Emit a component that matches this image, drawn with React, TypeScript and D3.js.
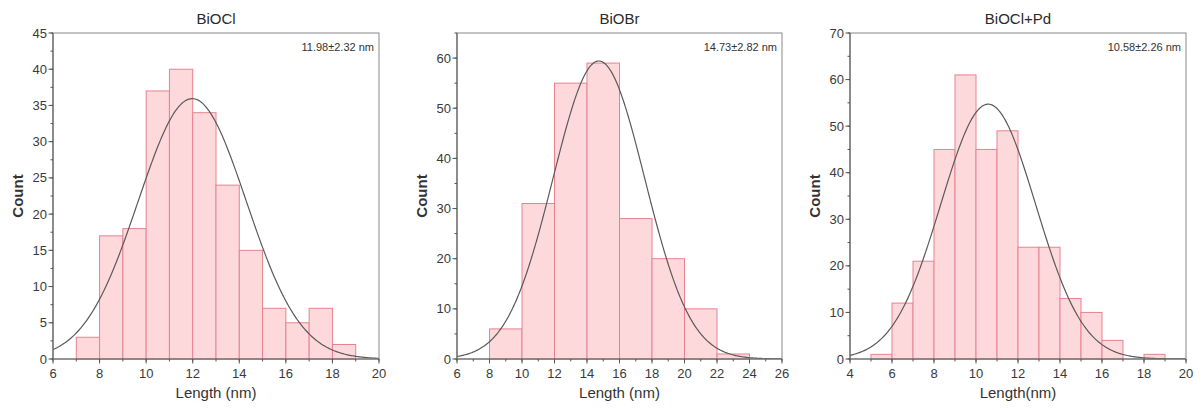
import React from "react";
import * as d3 from "d3";

// ---- Data ----
const bioclBinStarts = [7, 8, 9, 10, 11, 12, 13, 14, 15, 16, 17, 18];
const bioclCounts = [3, 17, 18, 37, 40, 34, 24, 15, 7, 5, 7, 2];
const biobrBinStarts = [8, 10, 12, 14, 16, 18, 20, 22];
const biobrCounts = [6, 31, 55, 59, 28, 20, 10, 1];
const bioclPdBinStarts = [5, 6, 7, 8, 9, 10, 11, 12, 13, 14, 15, 16, 17, 18];
const bioclPdCounts = [1, 12, 21, 45, 61, 45, 49, 24, 24, 13, 10, 4, 0, 1];

const titles = ["BiOCl", "BiOBr", "BiOCl+Pd"];
const annotations = ["11.98±2.32 nm", "14.73±2.82 nm", "10.58±2.26 nm"];
const xLabels = ["Length (nm)", "Length (nm)", "Length(nm)"];
const fitMeans = [11.98, 14.73, 10.58];
const fitSDs = [2.32, 2.82, 2.26];
const binWidths = [1, 2, 1];
const xDomains: [number, number][] = [[6, 20], [6, 26], [4, 20]];
const yDomains: [number, number][] = [[0, 45], [0, 65], [0, 70]];
const yTickValues = [
  [0, 5, 10, 15, 20, 25, 30, 35, 40, 45],
  [0, 10, 20, 30, 40, 50, 60],
  [0, 10, 20, 30, 40, 50, 60, 70],
];
const xTickValues = [
  [6, 8, 10, 12, 14, 16, 18, 20],
  [6, 8, 10, 12, 14, 16, 18, 20, 22, 24, 26],
  [4, 6, 8, 10, 12, 14, 16, 18, 20],
];

// ---- Layout ----
const panels = [
  { left: 53, right: 379, starts: bioclBinStarts, counts: bioclCounts, yMinorStep: 2.5 },
  { left: 457, right: 782, starts: biobrBinStarts, counts: biobrCounts, yMinorStep: 5 },
  { left: 850, right: 1186, starts: bioclPdBinStarts, counts: bioclPdCounts, yMinorStep: 5 },
];
const TOP = 33;
const BOTTOM = 359;
const FONT = "'Liberation Sans', Arial, sans-serif";

function Panel({ i }: { i: number }) {
  const p = panels[i];
  const x = d3.scaleLinear().domain(xDomains[i]).range([p.left, p.right]);
  const y = d3.scaleLinear().domain(yDomains[i]).range([BOTTOM, TOP]);
  const bw = binWidths[i];
  const n = d3.sum(p.counts);
  const amp = (n * bw) / (fitSDs[i] * Math.sqrt(2 * Math.PI));
  const xs = d3.range(xDomains[i][0], xDomains[i][1] + 0.001, 0.05);
  const curve = xs.map((v) => [v, amp * Math.exp(-0.5 * ((v - fitMeans[i]) / fitSDs[i]) ** 2)] as [number, number]);
  const line = d3
    .line<[number, number]>()
    .x((d) => x(d[0]))
    .y((d) => y(Math.max(d[1], 0)))
    .curve(d3.curveLinear);

  const xMinor = d3.range(xDomains[i][0], xDomains[i][1] + 0.001, 1);
  const yMinor = d3.range(yDomains[i][0], yDomains[i][1] + 0.001, p.yMinorStep);
  const midX = (p.left + p.right) / 2;
  const midY = (TOP + BOTTOM) / 2;
  const tickColor = "#555";

  return (
    <g>
      <clipPath id={`clip${i}`}>
        <rect x={p.left} y={TOP} width={p.right - p.left} height={BOTTOM - TOP} />
      </clipPath>
      {p.starts.map((s, k) =>
        p.counts[k] > 0 ? (
          <rect
            key={k}
            x={x(s)}
            y={y(p.counts[k])}
            width={x(s + bw) - x(s)}
            height={BOTTOM - y(p.counts[k])}
            fill="#fdd9dc"
            stroke="#e8828f"
            strokeWidth={1}
          />
        ) : null
      )}
      <path d={line(curve) || ""} fill="none" stroke="#5a5a5a" strokeWidth={1.2} clipPath={`url(#clip${i})`} />
      <rect x={p.left} y={TOP} width={p.right - p.left} height={BOTTOM - TOP} fill="none" stroke="#888" strokeWidth={1} />
      <line x1={p.left} x2={p.right} y1={BOTTOM} y2={BOTTOM} stroke="#666" strokeWidth={1.2} />
      <line x1={p.left} x2={p.left} y1={TOP} y2={BOTTOM} stroke="#666" strokeWidth={1.2} />
      {xMinor.map((v) => (
        <line key={`xm${v}`} x1={x(v)} x2={x(v)} y1={BOTTOM} y2={BOTTOM + 2.5} stroke={tickColor} />
      ))}
      {xTickValues[i].map((v) => (
        <g key={`xt${v}`}>
          <line x1={x(v)} x2={x(v)} y1={BOTTOM} y2={BOTTOM + 4.5} stroke={tickColor} />
          <text x={x(v)} y={BOTTOM + 19} textAnchor="middle" fontSize={13} fill="#3a3a3a" fontFamily={FONT}>
            {v}
          </text>
        </g>
      ))}
      {yMinor.map((v) => (
        <line key={`ym${v}`} x1={p.left - 2.5} x2={p.left} y1={y(v)} y2={y(v)} stroke={tickColor} />
      ))}
      {yTickValues[i].map((v) => (
        <g key={`yt${v}`}>
          <line x1={p.left - 4.5} x2={p.left} y1={y(v)} y2={y(v)} stroke={tickColor} />
          <text x={p.left - 6} y={y(v) + 4.5} textAnchor="end" fontSize={13} fill="#3a3a3a" fontFamily={FONT}>
            {v}
          </text>
        </g>
      ))}
      <text x={midX} y={24} textAnchor="middle" fontSize={15} fill="#2a2a2a" fontFamily={FONT}>
        {titles[i]}
      </text>
      <text x={p.right - 5} y={51} textAnchor="end" fontSize={11} fill="#333" fontFamily={FONT}>
        {annotations[i]}
      </text>
      <text x={midX} y={398} textAnchor="middle" fontSize={15} fill="#333" fontFamily={FONT}>
        {xLabels[i]}
      </text>
      <text
        transform={`translate(${p.left - 30},${midY}) rotate(-90)`}
        textAnchor="middle"
        fontSize={15}
        fontWeight="bold"
        fill="#333"
        fontFamily={FONT}
      >
        Count
      </text>
    </g>
  );
}

export default function App() {
  return (
    <svg width={1202} height={410} style={{ position: "absolute", left: 0, top: 0, background: "#fff" }}>
      <rect width={1202} height={410} fill="#fff" />
      {panels.map((_, i) => (
        <Panel key={i} i={i} />
      ))}
    </svg>
  );
}
